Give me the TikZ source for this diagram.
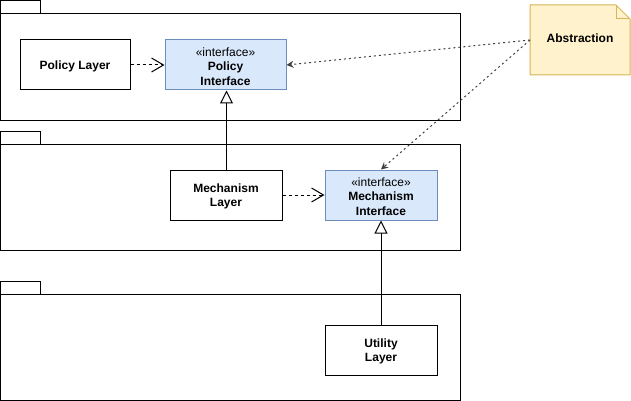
\documentclass[tikz,border=0pt]{standalone}
\usepackage{fontspec}
\setmainfont{Liberation Sans}
\usetikzlibrary{arrows.meta}
\definecolor{ifill}{HTML}{DAE8FC}
\definecolor{idraw}{HTML}{6C8EBF}
\definecolor{nfill}{HTML}{FFF2CC}
\definecolor{ndraw}{HTML}{D6B656}
\begin{document}
\begin{tikzpicture}[x=1pt,y=-1pt,
  pkg/.style={draw=black,line width=1pt},
  classbox/.style={draw=black,line width=1pt,fill=white,inner sep=0pt},
  ifacebox/.style={draw=idraw,line width=1pt,fill=ifill,inner sep=0pt},
  boldtext/.style={align=center,font=\fontsize{12}{14.5}\selectfont\bfseries,inner sep=0pt},
  plaintext/.style={align=center,font=\fontsize{12}{14.5}\selectfont,inner sep=0pt},
  dep/.style={draw=black,line width=1pt,dash pattern=on 3pt off 3pt,-{Straight Barb[length=12pt,width=14pt,line width=1pt]}},
  realize/.style={draw=black,line width=1pt,-{Triangle[open,length=13pt,width=13pt,line width=1pt,fill=white]}},
  noteline/.style={draw=black!75,line width=1pt,dash pattern=on 2pt off 3pt,-{Stealth[length=7pt,width=7pt]}}
]
\useasboundingbox (0,0) rectangle (631,401);
% packages
\foreach \t in {1,131,281}{
  \draw[pkg] (0,\t) rectangle (40,\t+13);
  \draw[pkg] (0,\t+13) rectangle (460,\t+119);
}
% boxes
\node[classbox,minimum width=110pt,minimum height=50pt] (pl) at (75,65) {};
\node[ifacebox,minimum width=121pt,minimum height=50pt] (pi) at (225.5,65) {};
\node[classbox,minimum width=112pt,minimum height=50pt] (ml) at (226,195) {};
\node[ifacebox,minimum width=112pt,minimum height=50pt] (mi) at (381,195) {};
\node[classbox,minimum width=112pt,minimum height=50pt] (ul) at (381,350) {};
% texts
\node[boldtext] (plt) at ([yshift=-1.5pt]pl.center) {Policy Layer};
\node[plaintext] (pit) at ([yshift=-1.5pt]pi.center) {\guillemotleft interface\guillemotright\\\textbf{Policy}\\\textbf{Interface}};
\node[boldtext] (mlt) at ([yshift=-1.5pt]ml.center) {Mechanism\\Layer};
\node[plaintext] (mit) at ([yshift=-1.5pt]mi.center) {\guillemotleft interface\guillemotright\\\textbf{Mechanism}\\\textbf{Interface}};
\node[boldtext] (ult) at ([yshift=-1.5pt]ul.center) {Utility\\Layer};
% note
\draw[draw=ndraw,fill=nfill,line width=1pt] (530,5) -- (616,5) -- (630,19) -- (630,75) -- (530,75) -- cycle;
\draw[draw=ndraw,line width=1pt] (616,5) -- (616,19) -- (630,19);
\node[boldtext] (ab) at (580,38) {Abstraction};
\coordinate (abw) at (530,40);
% connectors
\draw[dep] (pl.east) -- (pi.west);
\draw[dep] (ml.east) -- (mi.west);
\draw[realize] (ml.north -| pi.south) ++(1,0) coordinate (mlt0) -- (mlt0 |- pi.south);
\draw[realize] (ul.north) -- (mi.south);
\draw[noteline] (abw) -- (pi.east);
\draw[noteline] (abw) -- (mi.north);
\end{tikzpicture}
\end{document}
